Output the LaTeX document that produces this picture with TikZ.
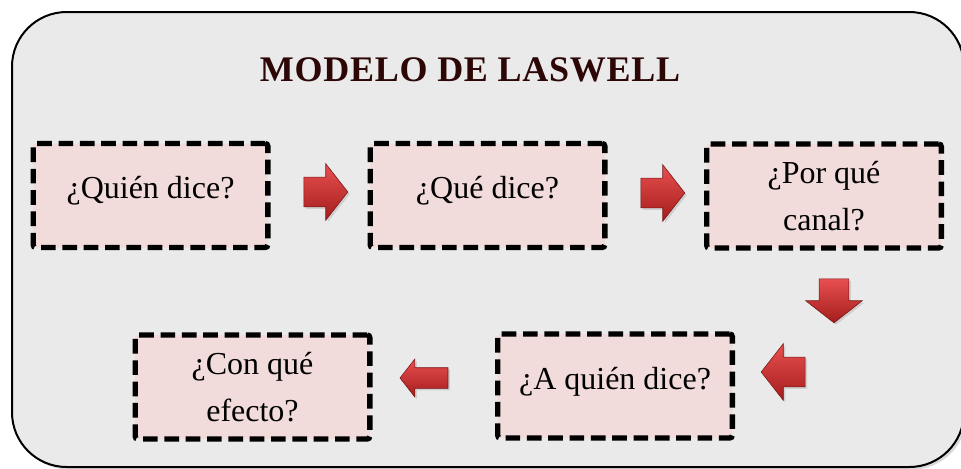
\documentclass[tikz,border=0pt]{standalone}
\usepackage{fontspec}
\setmainfont{Liberation Serif}
\newfontfamily\titlefont[LetterSpace=2]{Liberation Serif}
\usetikzlibrary{shapes.arrows,shadows}
\definecolor{fondo}{RGB}{234,234,234}
\definecolor{rosa}{RGB}{242,220,219}
\definecolor{rojo}{RGB}{232,80,80}
\definecolor{rojooscuro}{RGB}{165,28,28}
\definecolor{titulo}{RGB}{45,6,6}

\begin{document}
\begin{tikzpicture}[x=0.75pt, y=-0.75pt,
    caja/.style={draw, line width=4pt, dash pattern=on 11pt off 5pt, fill=rosa, rounded corners=2pt,
        minimum width=176pt, minimum height=78pt, inner sep=0pt, align=center,
        font=\fontsize{24}{35}\selectfont},
    una linea/.style={text height=16.5pt, text depth=12pt},
    flecha/.style={single arrow, inner sep=0pt, inner ysep=11pt, minimum height=33pt,
        single arrow head extend=10pt, single arrow tip angle=104,
        top color=rojo, bottom color=rojooscuro, draw=rojooscuro!70!black, line width=0.4pt,
        drop shadow={opacity=0.25, shadow xshift=1.5pt, shadow yshift=-1.5pt}},
    flecha chica/.style={inner ysep=7.5pt, minimum height=36pt, single arrow head extend=6.5pt}]

    \useasboundingbox (0,0) rectangle (961,468);

    % Marco
    \draw[line width=1.5pt, rounded corners=41pt, fill=fondo,
        drop shadow={opacity=0.3, shadow xshift=2pt, shadow yshift=-2pt}] (12,12) rectangle (964,467);

    \node[font=\titlefont\bfseries\fontsize{27}{30}\selectfont, text=titulo] (T) at (470,70) {MODELO DE LASWELL};

    % Cajas
    \node[caja, una linea] (Q1) at (150.5,195.5) {¿Quién dice?};
    \node[caja, una linea] (Q2) at (487.5,195.5) {¿Qué dice?};
    \node[caja] (Q3) at (824,196) {¿Por qué\\canal?};
    \node[caja, una linea] (Q4) at (615,386) {¿A quién dice?};
    \node[caja] (Q5) at (252.5,387) {¿Con qué\\efecto?};

    % Flechas
    \node[flecha] (F1) at (320,192) {};
    \node[flecha] (F2) at (657,193) {};
    \node[flecha, rotate=-90] (F3) at (834,295) {};
    \node[flecha, rotate=180] (F4) at (789,372) {};
    \node[flecha, flecha chica, rotate=180] (F5) at (428,378) {};

\end{tikzpicture}
\end{document}
